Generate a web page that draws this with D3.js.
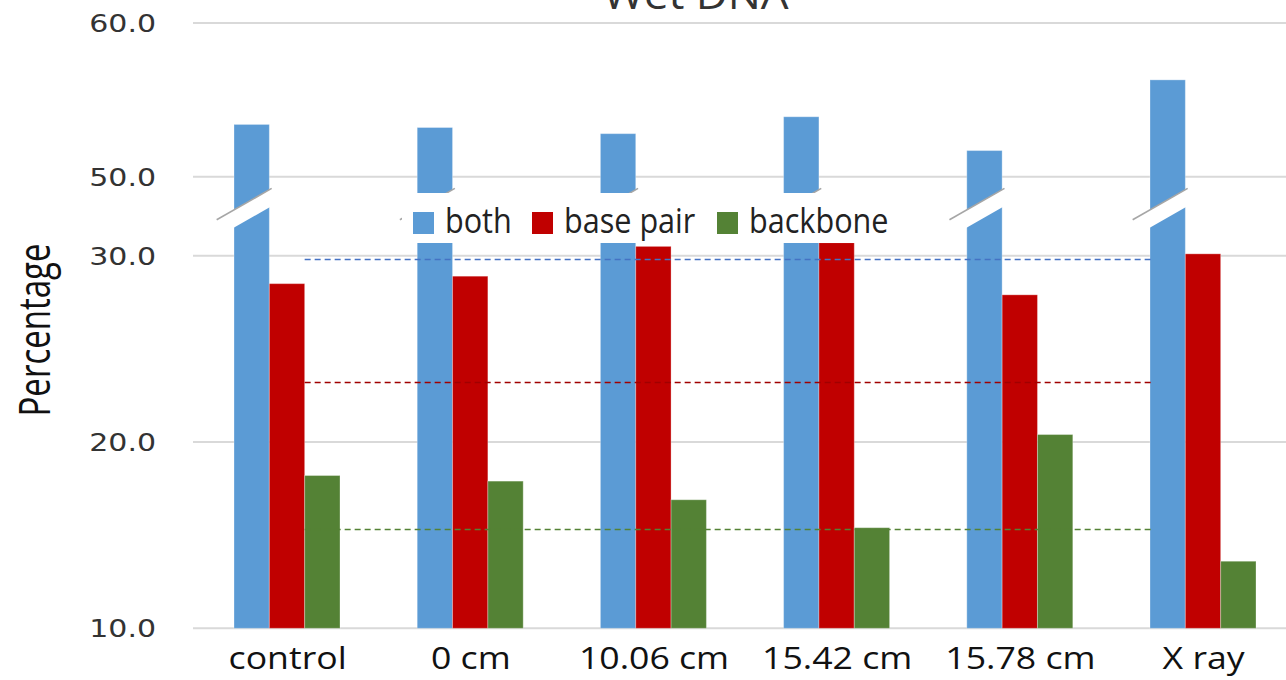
<!DOCTYPE html>
<html><head><meta charset="utf-8">
<script src="https://cdn.jsdelivr.net/npm/d3@7"></script>
<style>html,body{margin:0;padding:0;background:#fff;} svg{display:block;}</style>
</head><body><svg id="chart" width="1286" height="680"></svg>
<script>
// ---- data ----
const categories = ["control", "0 cm", "10.06 cm", "15.42 cm", "15.78 cm", "X ray"];
const seriesNames = ["both", "base pair", "backbone"];
const bothValues = [53.4, 53.2, 52.8, 53.9, 51.7, 56.3];
const basePairValues = [28.5, 28.9, 30.5, 30.7, 27.9, 30.1];
const backboneValues = [18.2, 17.9, 16.9, 15.4, 20.4, 13.6];
const referenceValues = [29.8, 23.2, 15.3];   // dashed reference level per series
const lowerTicks = [10, 20, 30];
const upperTicks = [50, 60];
const titleText = "Wet DNA";
const yLabelText = "Percentage";

// ---- styles / layout ----
const colors = ["#5B9BD5", "#C00000", "#548235"];
const refColors = ["#4472C4", "#A00000", "#548235"];
const W = 1286, H = 680;
const svg = d3.select("#chart");
svg.append("rect").attr("width", W).attr("height", H).attr("fill", "#fff");

const yLow = d3.scaleLinear().domain([10, 30]).range([628.3, 255.7]);
const yHigh = d3.scaleLinear().domain([50, 60]).range([176.7, 23]);
const yVal = v => v >= 50 ? yHigh(v) : yLow(v);

const x = d3.scaleBand().domain(categories).range([196, 196 + 6 * 183.2]);
const xs = d3.scaleBand().domain(seriesNames).range([38, 144]);

const series = [bothValues, basePairValues, backboneValues];

// gridlines
const gx0 = x.range()[0] - 3;
const grid = svg.append("g");
upperTicks.forEach(t => grid.append("line").attr("x1", gx0).attr("x2", W).attr("y1", yHigh(t)).attr("y2", yHigh(t)));
lowerTicks.forEach(t => grid.append("line").attr("x1", gx0).attr("x2", W).attr("y1", yLow(t)).attr("y2", yLow(t)));
grid.selectAll("line").attr("stroke", "#d9d9d9").attr("stroke-width", 2);

// y tick labels
const fmt = d3.format(".1f");
function yAxis(scale, ticks) {
  const g = svg.append("g").attr("transform", "translate(156,0)")
    .call(d3.axisLeft(scale).tickValues(ticks).tickFormat(fmt).tickSize(0).tickPadding(0));
  g.select(".domain").remove();
  g.selectAll("text").attr("x", 0).attr("dy", "0.36em")
    .attr("transform", "scale(1.25,1)")
    .attr("font-family", "DejaVu Sans").attr("font-size", 24).attr("fill", "#333");
}
yAxis(yHigh, upperTicks);
yAxis(yLow, lowerTicks);

// bars
const groups = svg.append("g").selectAll("g").data(categories).join("g")
  .attr("transform", d => `translate(${x(d)},0)`);
groups.selectAll("rect").data((c, i) => series.map((s, k) => ({ k, v: s[i] }))).join("rect")
  .attr("x", d => xs(seriesNames[d.k]))
  .attr("width", xs.bandwidth())
  .attr("y", d => yVal(d.v))
  .attr("height", d => yLow(10) - yVal(d.v))
  .attr("fill", d => colors[d.k])
  .attr("stroke", "#fff").attr("stroke-opacity", 0.3).attr("stroke-width", 1);

// axis break marks on the "both" bars
const breakY = (yHigh(50) + yLow(30)) / 2 - 7.6;
const slope = -0.57;
const brk = svg.append("g");
categories.forEach(c => {
  const cx = x(c) + xs("both") + xs.bandwidth() / 2;
  const up = px => breakY - 8.8 + slope * (px - cx);
  const lo = px => breakY + 8.9 + slope * (px - cx);
  const pts = [[cx - 35, up(cx - 35)], [cx + 20, up(cx + 20)], [cx + 31.5, lo(cx + 31.5)], [cx - 24.5, lo(cx - 24.5)]];
  brk.append("polygon").attr("points", pts.map(p => p.join(",")).join(" ")).attr("fill", "#fff");
  brk.append("line").attr("x1", pts[0][0]).attr("y1", pts[0][1]).attr("x2", pts[1][0]).attr("y2", pts[1][1])
    .attr("stroke", "#a6a6a6").attr("stroke-width", 1.6);
});

// dashed reference lines
const rx1 = x(categories[0]) + xs("backbone");
const rx2 = x(categories[categories.length - 1]) + xs("both") + 4;
referenceValues.forEach((v, k) => {
  svg.append("line").attr("x1", rx1).attr("x2", rx2).attr("y1", yLow(v)).attr("y2", yLow(v))
    .attr("stroke", refColors[k]).attr("stroke-width", 1.5).attr("stroke-dasharray", "6,4");
});

// x axis labels
const xa = svg.append("g").attr("transform", `translate(0,${yLow(10)})`)
  .call(d3.axisBottom(x).tickSize(0).tickPadding(0));
xa.select(".domain").remove();
xa.selectAll("text").attr("y", 41).attr("dy", 0)
  .attr("transform", "scale(1.15,1)")
  .attr("font-family", "Open Sans").attr("font-size", 31).attr("fill", "#111");

// legend
const lg = svg.append("g").attr("transform", "translate(402,193)");
lg.append("rect").attr("width", 498).attr("height", 50).attr("fill", "#fff");
const legendOffsets = [11, 130, 315];
seriesNames.forEach((n, k) => {
  const it = lg.append("g").attr("transform", `translate(${legendOffsets[k]},0)`);
  it.append("rect").attr("x", 0).attr("y", 19).attr("width", 21).attr("height", 22).attr("fill", colors[k]);
  it.append("text").attr("transform", "translate(32,40) scale(0.9,1)")
    .attr("font-family", "Open Sans").attr("font-size", 34).attr("fill", "#222").text(n);
});

// title (cut off at the top edge, as in the reference)
svg.append("text").attr("transform", "translate(696,9) scale(1.1,1)").attr("text-anchor", "middle")
  .attr("font-family", "Open Sans").attr("font-size", 40).attr("fill", "#333").text(titleText);

// y label
svg.append("text").attr("transform", "translate(50,330) rotate(-90) scale(1,1.3)").attr("text-anchor", "middle")
  .attr("font-family", "Open Sans").attr("font-size", 33).attr("fill", "#111").text(yLabelText);
</script></body></html>
